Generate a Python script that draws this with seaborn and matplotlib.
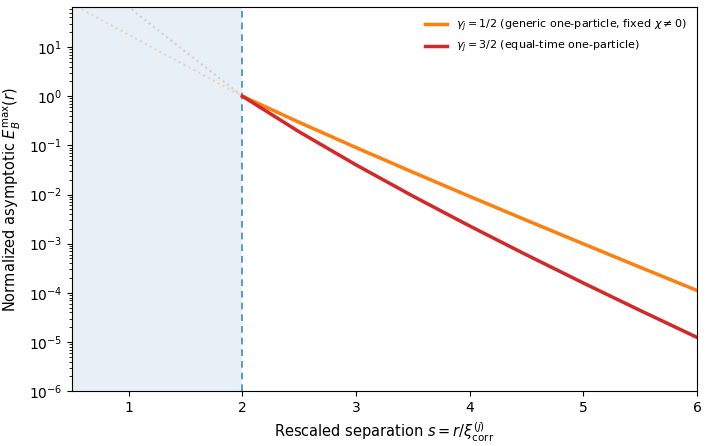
import numpy as np
import pandas as pd
import matplotlib
matplotlib.use("Agg")
import matplotlib.pyplot as plt
import seaborn as sns

# Data
s_main = [2.0, 2.5, 3.0, 3.5, 4.0, 4.5, 5.0, 5.5, 6.0]
e_half = [1.0, 0.2943, 0.0902, 0.02845, 0.009158, 0.002995, 0.0009915, 0.0003316, 0.0001118]
e_three_half = [1.0, 0.1884, 0.0401, 0.009291, 0.00229, 0.0005915, 0.0001586, 0.00004384, 0.00001242]

# faint dotted extrapolations inside the shaded region
s_ext = [0.5, 1.0, 1.5, 2.0]
e_half_ext = [75.0, 17.8, 4.2, 1.0]
e_three_half_ext = [525.0, 65.0, 8.0, 1.0]

labels = [r"$\gamma_j = 1/2$ (generic one-particle, fixed $\chi \neq 0$)",
          r"$\gamma_j = 3/2$ (equal-time one-particle)"]
colors = ["#ff7f0e", "#d62728"]

fig = plt.figure(figsize=(7.09, 4.46), dpi=100)
ax = fig.add_axes([0.1016, 0.123, 0.8814, 0.861])

ax.axvspan(0.5, 2.0, color="#1f77b4", alpha=0.11, lw=0, zorder=0)
ax.axvline(2.0, color="#1f77b4", ls=(0, (4, 3)), lw=1.2, alpha=0.85, zorder=1)

sns.lineplot(x=s_ext, y=e_half_ext, ax=ax, color=colors[0], alpha=0.25, ls=":", lw=1.5, legend=False)
sns.lineplot(x=s_ext, y=e_three_half_ext, ax=ax, color=colors[1], alpha=0.2, ls=":", lw=1.5, legend=False)
sns.lineplot(x=s_main, y=e_half, ax=ax, color=colors[0], lw=2.5, label=labels[0])
sns.lineplot(x=s_main, y=e_three_half, ax=ax, color=colors[1], lw=2.5, label=labels[1])

ax.set_yscale("log")
ax.set_xlim(0.5, 6.0)
ax.set_ylim(1e-6, 65)
ax.set_xlabel(r"Rescaled separation $s = r/\xi_{\rm corr}^{(j)}$", fontsize=10.5)
ax.set_ylabel(r"Normalized asymptotic $E_B^{\max}(r)$", fontsize=10.5)
ax.tick_params(labelsize=10)
ax.legend(loc="upper right", frameon=False, fontsize=8)

fig.savefig("out.png", dpi=100)
